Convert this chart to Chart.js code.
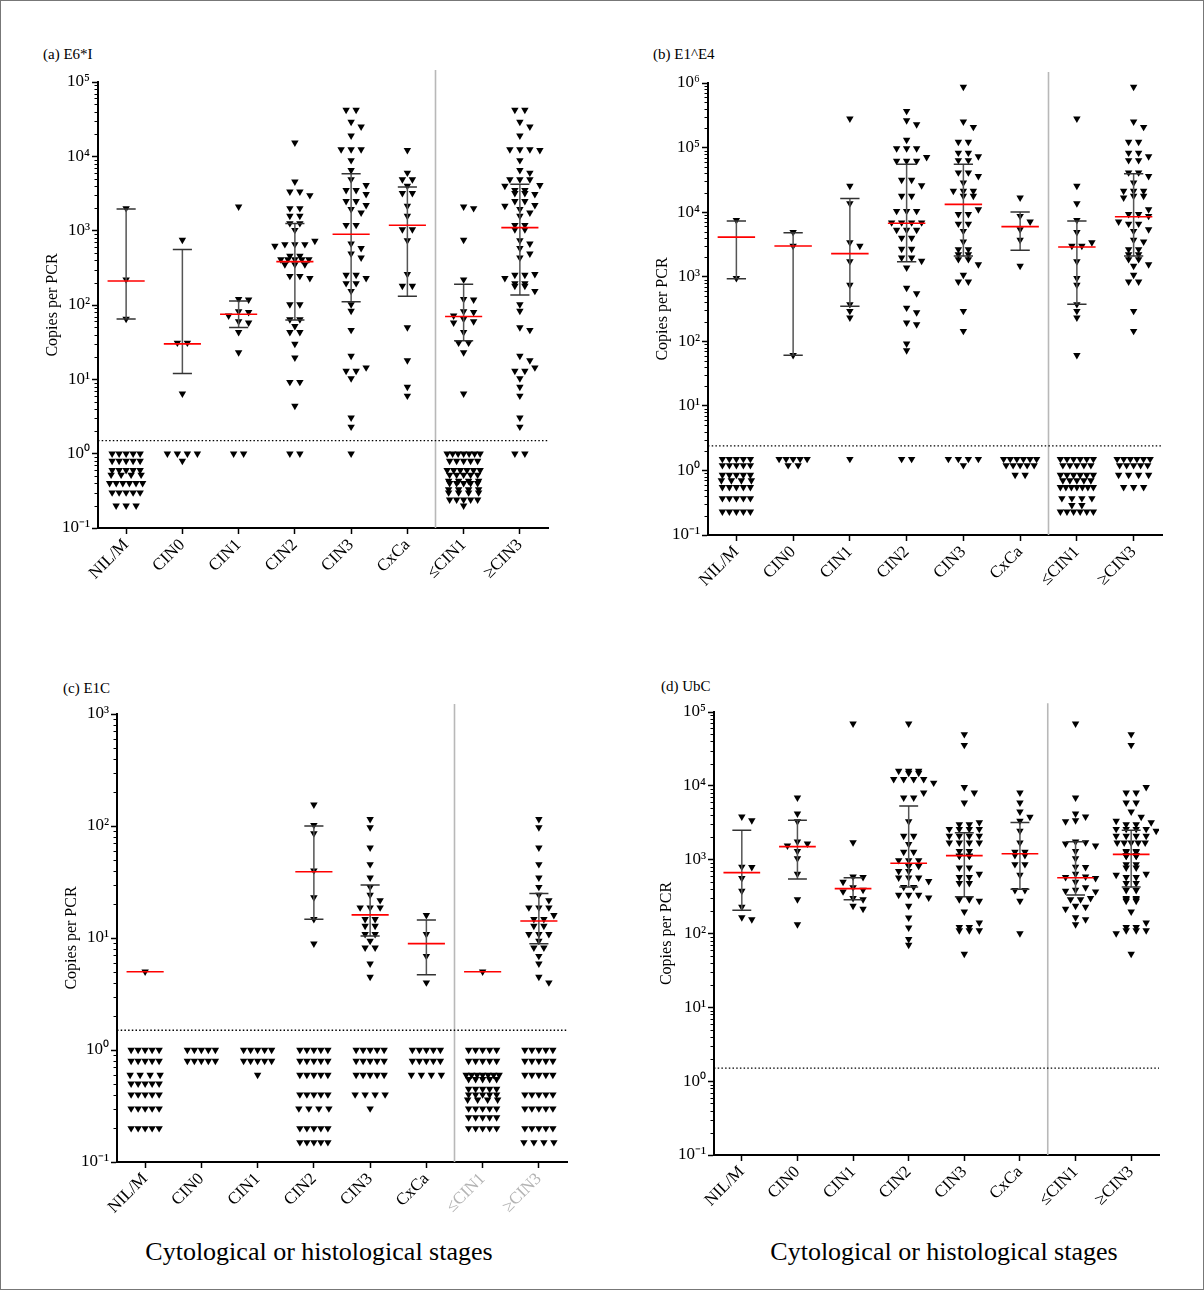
<!DOCTYPE html>
<html>
<head>
<meta charset="utf-8">
<script src="https://cdn.jsdelivr.net/npm/chart.js@4.4.1/dist/chart.umd.min.js"></script>
<style>
  html, body { margin: 0; padding: 0; background: #fff; }
  #page {
    position: relative; width: 1204px; height: 1290px; box-sizing: border-box;
    border: 1px solid #777; overflow: hidden; background: #fff;
    font-family: "Liberation Serif", "Times New Roman", Times, serif; color: #000;
  }
  #page canvas { position: absolute; }
  .tag { position: absolute; font-size: 15px; line-height: 15px; white-space: nowrap; }
  .stage { position: absolute; width: 500px; font-size: 26px; line-height: 30px; text-align: center; white-space: nowrap; }
</style>
</head>
<body>
<div id="page">
  <div class="tag" style="left:42px; top:46px">(a) E6*I</div>
  <div class="tag" style="left:652px; top:46px">(b) E1^E4</div>
  <div class="tag" style="left:62px; top:680px">(c) E1C</div>
  <div class="tag" style="left:660px; top:678px">(d) UbC</div>
  <div class="stage" style="left:68px; top:1236px">Cytological or histological stages</div>
  <div class="stage" style="left:693px; top:1236px">Cytological or histological stages</div>
</div>
<script>
// Groups shown on every panel; the last two pool the lower and the higher grades.
const CATEGORIES = ['NIL/M', 'CIN0', 'CIN1', 'CIN2', 'CIN3', 'CxCa', '≤CIN1', '≥CIN3'];

// ---------- (a) E6*I ----------
const e6iDetected = [
  [2000, 220, 65],
  [750, 31, 31, 6.4],
  [2100, 120, 118, 82, 80, 72, 60, 58, 43, 23],
  [15300, 4560, 3340, 3340, 2990, 2000, 2000, 1575, 1575, 1256, 1256, 1020, 727, 656, 656, 656, 622, 456, 456,
   411, 411, 411, 411, 411, 352, 352, 352, 245, 245, 229, 102, 102, 64, 64, 52, 43, 43, 30, 19.5, 9.2, 9.2, 4.4],
  [42000, 42000, 29000, 25000, 19000, 12400, 12400, 12400, 8850, 6500, 4900, 4100, 3500, 3500, 3100, 2500, 2500,
   2200, 1940, 1750, 1190, 1190, 670, 580, 490, 433, 254, 254, 229, 196, 196, 154, 102, 83, 46, 20.6, 14.4, 13, 13,
   10.3, 3.05, 2.3],
  [12100, 6000, 4900, 4900, 4000, 3200, 3200, 2150, 1575, 1040, 1040, 740, 260, 180, 180, 50, 18, 7.9, 6.0]
];
const e6iUndetected = [
  [1, 1, 1, 1, 1, 0.8, 0.8, 0.8, 0.8, 0.8, 0.6, 0.6, 0.6, 0.6, 0.6, 0.52, 0.52, 0.52, 0.52,
   0.4, 0.4, 0.4, 0.4, 0.4, 0.4, 0.3, 0.3, 0.3, 0.3, 0.3, 0.2, 0.2, 0.2],
  [1, 1, 1, 1, 0.8],
  [1, 1],
  [1, 1],
  [1],
  [],
  [1, 1, 1, 1, 1, 1, 1, 0.8, 0.8, 0.8, 0.8, 0.8, 0.6, 0.6, 0.6, 0.6, 0.6, 0.6, 0.52, 0.52, 0.52, 0.52, 0.52,
   0.43, 0.43, 0.43, 0.43, 0.4, 0.4, 0.4, 0.4, 0.4, 0.33, 0.33, 0.33, 0.33, 0.3, 0.3, 0.3, 0.3,
   0.24, 0.24, 0.24, 0.24, 0.24, 0.2],
  [1, 1]
];
const e6iMedian = [210, 30, 75, 383, 893, 1180, 70, 1100];
const e6iQ1 = [65, 12, 50, 63, 111, 131, 33, 136];
const e6iQ3 = [1950, 560, 113, 1250, 5850, 3870, 190, 4200];
const e6iCutoff = 1.5;

// ---------- (b) E1^E4 ----------
const e1e4Detected = [
  [7500, 950],
  [4900, 3000, 61],
  [280000, 25500, 13600, 3400, 3000, 1730, 745, 374, 294, 232],
  [368000, 264000, 229000, 131000, 97000, 97000, 97000, 71000, 62000, 62000, 62000, 31500, 31500, 26000, 17800,
   17800, 10400, 10400, 10400, 6900, 6900, 6900, 6900, 5300, 5300, 5300, 4000, 4000, 2700, 2700, 1970, 1970, 1750,
   1380, 670, 550, 330, 280, 194, 183, 92, 72],
  [867000, 252000, 208000, 122000, 122000, 83000, 83000, 73000, 63500, 63500, 41000, 41000, 36000, 28600, 21300,
   21300, 21300, 17800, 17800, 11000, 9300, 9300, 6600, 6600, 5100, 3500, 2660, 2660, 2220, 2220, 1860, 1860, 1555,
   1065, 837, 837, 294, 144],
  [16700, 8700, 7100, 5400, 3700, 1465]
];
const e1e4Undetected = [
  [1.5, 1.5, 1.5, 1.5, 1.5, 1.2, 1.2, 1.2, 1.2, 1.2, 0.85, 0.85, 0.85, 0.85, 0.85, 0.7, 0.7, 0.7, 0.7,
   0.55, 0.55, 0.55, 0.55, 0.55, 0.37, 0.37, 0.37, 0.37, 0.37, 0.23, 0.23, 0.23, 0.23, 0.23],
  [1.5, 1.5, 1.5, 1.5, 1.5, 1.2, 1.2],
  [1.5],
  [1.5, 1.5],
  [1.5, 1.5, 1.5, 1.5, 1.2],
  [1.5, 1.5, 1.5, 1.5, 1.5, 1.5, 1.2, 1.2, 1.2, 1.2, 1.2, 0.85, 0.85],
  [1.5, 1.5, 1.5, 1.5, 1.5, 1.5, 1.2, 1.2, 1.2, 1.2, 1.2, 0.85, 0.85, 0.85, 0.85, 0.85, 0.85,
   0.7, 0.7, 0.7, 0.7, 0.7, 0.55, 0.55, 0.55, 0.55, 0.55, 0.55, 0.55, 0.37, 0.37, 0.37, 0.37,
   0.29, 0.29, 0.23, 0.23, 0.23, 0.23, 0.23, 0.23],
  [1.5, 1.5, 1.5, 1.5, 1.5, 1.5, 1.2, 1.2, 1.2, 1.2, 1.2, 0.85, 0.85, 0.85, 0.85, 0.55, 0.55, 0.55]
];
const e1e4Median = [4100, 2990, 2280, 6720, 13200, 5960, 2880, 8500];
const e1e4Q1 = [930, 61, 350, 1710, 2100, 2560, 374, 2100];
const e1e4Q3 = [7300, 4800, 16200, 55000, 55000, 10050, 7300, 39300];
const e1e4Cutoff = 2.4;

// ---------- (c) E1C ----------
const e1cDetected = [
  [5],
  [],
  [],
  [155, 102, 86, 40, 23, 14.7, 8.9],
  [115, 97, 64, 45.5, 34.6, 28.5, 24.2, 21.7, 18.7, 18.7, 18.7, 14.7, 14.7, 12.8, 12.8, 10.8, 10.8, 9.4, 8.2, 8.2,
   5.9, 4.5],
  [16, 10.8, 6.9, 4.0]
];
const e1cUndetected = [
  [1, 1, 1, 1, 1, 0.8, 0.8, 0.8, 0.8, 0.8, 0.6, 0.6, 0.6, 0.6, 0.5, 0.5, 0.5, 0.5, 0.5,
   0.4, 0.4, 0.4, 0.4, 0.4, 0.3, 0.3, 0.3, 0.3, 0.3, 0.2, 0.2, 0.2, 0.2, 0.2],
  [1, 1, 1, 1, 1, 0.8, 0.8, 0.8, 0.8, 0.8],
  [1, 1, 1, 1, 1, 0.8, 0.8, 0.8, 0.8, 0.8, 0.6],
  [1, 1, 1, 1, 1, 0.8, 0.8, 0.8, 0.8, 0.8, 0.6, 0.6, 0.6, 0.6, 0.6, 0.4, 0.4, 0.4, 0.4, 0.4,
   0.3, 0.3, 0.3, 0.3, 0.2, 0.2, 0.2, 0.2, 0.2, 0.15, 0.15, 0.15, 0.15, 0.15],
  [1, 1, 1, 1, 1, 0.8, 0.8, 0.8, 0.8, 0.8, 0.6, 0.6, 0.6, 0.6, 0.6, 0.4, 0.4, 0.4, 0.4, 0.3],
  [1, 1, 1, 1, 1, 0.8, 0.8, 0.8, 0.8, 0.8, 0.6, 0.6, 0.6, 0.6],
  [1, 1, 1, 1, 1, 0.8, 0.8, 0.8, 0.8, 0.8, 0.6, 0.6, 0.6, 0.6, 0.6, 0.6, 0.6, 0.55, 0.55, 0.55, 0.55, 0.55,
   0.45, 0.45, 0.45, 0.45, 0.45, 0.4, 0.4, 0.4, 0.4, 0.4, 0.36, 0.36, 0.36, 0.36,
   0.3, 0.3, 0.3, 0.3, 0.3, 0.25, 0.25, 0.25, 0.25, 0.25, 0.2, 0.2, 0.2, 0.2, 0.2],
  [1, 1, 1, 1, 1, 0.8, 0.8, 0.8, 0.8, 0.8, 0.6, 0.6, 0.6, 0.6, 0.6, 0.4, 0.4, 0.4, 0.4, 0.4,
   0.3, 0.3, 0.3, 0.3, 0.3, 0.2, 0.2, 0.2, 0.2, 0.2, 0.15, 0.15, 0.15, 0.15]
];
const e1cMedian = [5, null, null, 39, 16.1, 8.9, 5, 14.2];
const e1cQ1 = [null, null, null, 14.7, 10.4, 4.7, null, 8.9];
const e1cQ3 = [null, null, null, 100, 29.7, 14.5, null, 25];
const e1cCutoff = 1.5;

// ---------- (d) UbC ----------
const ubcDetected = [
  [3820, 3400, 800, 790, 560, 377, 229, 165, 155],
  [6900, 4200, 3300, 1750, 1650, 1550, 1300, 1040, 640, 290, 133],
  [69500, 1710, 590, 580, 500, 420, 390, 370, 300, 290, 236, 215],
  [69500, 15900, 15900, 15900, 15000, 15000, 12300, 12300, 12300, 12300, 11000, 8100, 6900, 6900, 3300, 2100, 2100,
   1620, 1270, 1270, 980, 980, 980, 820, 820, 700, 700, 570, 570, 570, 510, 426, 426, 333, 333, 333, 306, 236, 164,
   120, 84, 70],
  [49900, 35700, 9600, 8100, 5900, 3200, 3000, 3000, 2600, 2600, 2600, 2600, 2100, 2100, 2100, 2100, 1700, 1700,
   1700, 1700, 1300, 1300, 1130, 1130, 1120, 1120, 780, 780, 640, 580, 580, 480, 480, 300, 300, 290, 290, 276, 198,
   140, 122, 122, 110, 110, 110, 53],
  [8100, 5900, 4470, 3800, 3340, 2450, 1700, 1270, 1270, 1150, 1150, 866, 866, 620, 385, 385, 276, 100]
];
const ubcUndetected = [[], [], [], [], [], [], [], []];
const ubcMedian = [667, 1500, 405, 893, 1135, 1205, 570, 1180];
const ubcQ1 = [206, 546, 287, 426, 315, 397, 333, 426];
const ubcQ3 = [2500, 3410, 567, 5340, 2320, 3190, 1750, 2500];
const ubcCutoff = 1.5;

// ---------- panel geometry (page pixels) ----------
const PANELS = [
  { detected: e6iDetected, undetected: e6iUndetected, median: e6iMedian, q1: e6iQ1, q3: e6iQ3, cutoff: e6iCutoff,
    topExp: 5, dividerTop: 5.16, grayPooled: false,
    left: 42, areaLeft: 97, areaTop: 81, areaRight: 547, areaBottom: 527 },
  { detected: e1e4Detected, undetected: e1e4Undetected, median: e1e4Median, q1: e1e4Q1, q3: e1e4Q3, cutoff: e1e4Cutoff,
    topExp: 6, dividerTop: 6.17, grayPooled: false,
    left: 652, areaLeft: 707, areaTop: 82, areaRight: 1161, areaBottom: 534 },
  { detected: e1cDetected, undetected: e1cUndetected, median: e1cMedian, q1: e1cQ1, q3: e1cQ3, cutoff: e1cCutoff,
    topExp: 3, dividerTop: 3.09, grayPooled: true,
    left: 61, areaLeft: 116, areaTop: 713, areaRight: 566, areaBottom: 1161 },
  { detected: ubcDetected, undetected: ubcUndetected, median: ubcMedian, q1: ubcQ1, q3: ubcQ3, cutoff: ubcCutoff,
    topExp: 5, dividerTop: 5.12, grayPooled: false,
    left: 656, areaLeft: 713, areaTop: 711, areaRight: 1158, areaBottom: 1154 }
];

const SERIF = '"Liberation Serif", "Times New Roman", Times, serif';
const PAD_TOP = 20, PAD_RIGHT = 8, X_AXIS_H = 75;
const SUPERSCRIPT = { '-': '⁻', '0': '⁰', '1': '¹', '2': '²', '3': '³', '4': '⁴', '5': '⁵', '6': '⁶', '7': '⁷', '8': '⁸', '9': '⁹' };

function decadeLabel(v) {
  const e = Math.log10(v);
  if (Math.abs(e - Math.round(e)) > 1e-6) return '';
  return '10' + String(Math.round(e)).split('').map(c => SUPERSCRIPT[c]).join('');
}

// Every column's points: single groups, then the pooled ≤CIN1 and ≥CIN3 groups.
function columns(detected, undetected) {
  const low = detected[0].concat(detected[1], detected[2]);
  const high = detected[4].concat(detected[5]);
  const cols = [0, 1, 2, 3, 4, 5].map(i => detected[i].concat(undetected[i]));
  cols.push(low.concat(undetected[6]));
  cols.push(high.concat(undetected[7]));
  return cols;
}

// Spread the points of each column sideways so that the markers do not pile up.
function swarm(chart, cols) {
  const ys = chart.scales.y, xs = chart.scales.x;
  const unit = xs.getPixelForValue(1) - xs.getPixelForValue(0);
  const out = [];
  cols.forEach((vals, i) => {
    const buckets = new Map();
    vals.forEach(v => buckets.set(v, (buckets.get(v) || 0) + 1));
    const list = [...buckets.entries()].map(([v, n]) => ({ v, n, py: ys.getPixelForValue(v) }));
    list.sort((a, b) => ((b.n > 1) - (a.n > 1)) || (a.py - b.py));
    const placed = [];
    const hits = (ox, py) => placed.reduce((acc, p) => acc + (Math.abs(p.ox - ox) < 7 && Math.abs(p.py - py) < 5.8 ? 1 : 0), 0);
    list.forEach(b => {
      let offs;
      if (b.n === 1) {
        let best = 0, bestHits = Infinity;
        for (let k = 0; k <= 12; k++) {
          const c = k === 0 ? 0 : (k % 2 ? 1 : -1) * Math.ceil(k / 2) * 5;
          const h = hits(c, b.py);
          if (h < bestHits) { bestHits = h; best = c; }
          if (h === 0) break;
        }
        offs = [best];
      } else {
        const s = b.n >= 5 ? Math.min(7, 33 / (b.n - 1)) : 10;
        const base = Array.from({ length: b.n }, (_, k) => (k - (b.n - 1) / 2) * s);
        let shift = 0, bestHits = Infinity;
        [0, s / 2, -s / 2].forEach(sh => {
          const h = base.reduce((acc, o) => acc + hits(o + sh, b.py), 0);
          if (h < bestHits) { bestHits = h; shift = sh; }
        });
        offs = base.map(o => o + shift);
      }
      offs.forEach(o => {
        placed.push({ ox: o, py: b.py });
        out.push({ x: i + o / unit, y: b.v });
      });
    });
  });
  return out;
}

// Short unlabeled ticks between the decades of the log axis.
const minorTicks = {
  id: 'minorTicks',
  afterDraw(chart) {
    const y = chart.scales.y, ctx = chart.ctx;
    ctx.save();
    ctx.strokeStyle = '#000';
    ctx.lineWidth = 1;
    y.ticks.forEach(t => {
      if (t.major) return;
      const p = Math.round(y.getPixelForValue(t.value)) + 0.5;
      ctx.beginPath();
      ctx.moveTo(y.right - 3.5, p);
      ctx.lineTo(y.right, p);
      ctx.stroke();
    });
    ctx.restore();
  }
};

function buildPanel(p) {
  const canvas = document.createElement('canvas');
  const w = p.areaRight + PAD_RIGHT - p.left;
  const h = PAD_TOP + (p.areaBottom - p.areaTop) + X_AXIS_H;
  canvas.width = w; canvas.height = h;
  canvas.style.left = p.left + 'px';
  canvas.style.top = (p.areaTop - PAD_TOP) + 'px';
  canvas.style.width = w + 'px'; canvas.style.height = h + 'px';
  document.getElementById('page').appendChild(canvas);

  const bars = [], caps = [], medians = [];
  CATEGORIES.forEach((_, i) => {
    if (p.q1[i] != null && p.q3[i] != null) {
      bars.push({ x: i, y: p.q1[i] }, { x: i, y: p.q3[i] }, { x: i, y: null });
      caps.push({ x: i - 0.17, y: p.q1[i] }, { x: i + 0.17, y: p.q1[i] }, { x: i, y: null });
      caps.push({ x: i - 0.17, y: p.q3[i] }, { x: i + 0.17, y: p.q3[i] }, { x: i, y: null });
    }
    if (p.median[i] != null) {
      medians.push({ x: i - 0.33, y: p.median[i] }, { x: i + 0.33, y: p.median[i] }, { x: i, y: null });
    }
  });

  const cols = columns(p.detected, p.undetected);
  const yMax = Math.pow(10, p.topExp);

  const chart = new Chart(canvas, {
    type: 'scatter',
    data: {
      datasets: [
        { data: cols.flatMap((vals, i) => vals.map(v => ({ x: i, y: v }))),
          pointStyle: 'triangle', pointRotation: 180, pointRadius: 4.3,
          backgroundColor: '#000', borderWidth: 0, order: 4 },
        { data: bars, showLine: true, borderColor: '#555', borderWidth: 1.5, pointRadius: 0,
          spanGaps: false, tension: 0, order: 3 },
        { data: caps, showLine: true, borderColor: '#333', borderWidth: 1.5, pointRadius: 0,
          spanGaps: false, tension: 0, order: 2 },
        { data: medians, showLine: true, borderColor: 'rgb(255,0,0)', borderWidth: 1.6, pointRadius: 0,
          spanGaps: false, tension: 0, order: 1 },
        { data: [{ x: -0.5, y: p.cutoff }, { x: 7.5, y: p.cutoff }], showLine: true, borderColor: '#000',
          borderWidth: 1.4, borderDash: [1.5, 2.2], pointRadius: 0, order: 5 },
        { data: [{ x: 5.5, y: 0.1 }, { x: 5.5, y: Math.pow(10, p.dividerTop) }], showLine: true, clip: false,
          borderColor: '#b8b8b8', borderWidth: 1.6, pointRadius: 0, order: 6 }
      ]
    },
    options: {
      responsive: false,
      animation: false,
      events: [],
      layout: { padding: { top: PAD_TOP, right: PAD_RIGHT, bottom: 0, left: 0 } },
      plugins: { legend: { display: false }, tooltip: { enabled: false } },
      scales: {
        x: {
          type: 'linear', min: -0.5, max: 7.5,
          afterBuildTicks: s => { s.ticks = CATEGORIES.map((_, i) => ({ value: i })); },
          afterFit: s => { s.height = X_AXIS_H; },
          ticks: {
            autoSkip: false, maxRotation: 45, minRotation: 45, padding: 1,
            font: { family: SERIF, size: 17 },
            color: ctx => (p.grayPooled && ctx.index >= 6) ? '#b4b4b4' : '#000',
            callback: v => CATEGORIES[Math.round(v)]
          },
          grid: { drawOnChartArea: false, drawTicks: true, tickLength: 6, tickColor: '#000', tickWidth: 1.5 },
          border: { display: true, color: '#000', width: 2 }
        },
        y: {
          type: 'logarithmic', min: 0.1, max: yMax,
          afterBuildTicks: s => {
            const t = [];
            for (let e = -1; e < p.topExp; e++) {
              for (let m = 1; m <= 9; m++) t.push({ value: m * Math.pow(10, e), major: m === 1 });
            }
            t.push({ value: yMax, major: true });
            s.ticks = t;
          },
          afterFit: s => { s.width = p.areaLeft - p.left; },
          ticks: {
            autoSkip: false, padding: 2, color: '#000',
            font: { family: SERIF, size: 17 },
            callback: v => decadeLabel(v)
          },
          grid: {
            drawOnChartArea: false, drawTicks: true, tickLength: 6, tickWidth: 1.5,
            tickColor: ctx => (ctx.tick && ctx.tick.major) ? '#000' : 'rgba(0,0,0,0)'
          },
          border: { display: true, color: '#000', width: 2 },
          title: { display: true, text: 'Copies per PCR', color: '#000', padding: 0,
                   font: { family: SERIF, size: 16 } }
        }
      }
    },
    plugins: [minorTicks]
  });

  chart.data.datasets[0].data = swarm(chart, cols);
  chart.update('none');
}

PANELS.forEach(buildPanel);
</script>
</body>
</html>
